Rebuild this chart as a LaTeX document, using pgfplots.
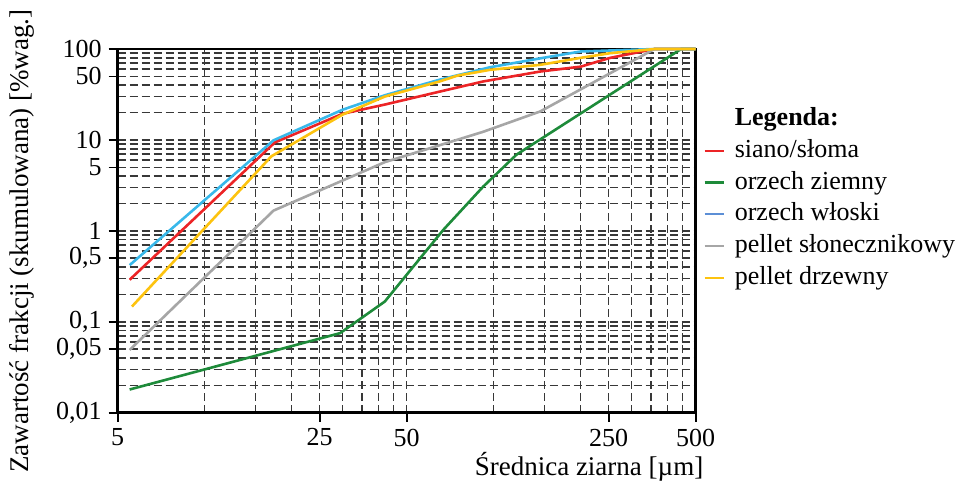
\documentclass[border=0pt]{standalone}
\usepackage{fontspec}
\setmainfont{Liberation Serif}
\usepackage{pgfplots}
\pgfplotsset{compat=1.18}

\definecolor{cred}{HTML}{EC2426}
\definecolor{cgreen}{HTML}{1E8B3A}
\definecolor{ccyan}{HTML}{38B8EA}
\definecolor{cblue}{HTML}{5C8FD6}
\definecolor{cgray}{HTML}{A6A6A6}
\definecolor{cyellow}{HTML}{FDC30F}

\begin{document}
\begin{tikzpicture}
\useasboundingbox (0,0) rectangle (483pt,242pt);
\begin{axis}[
    at={(58.85pt,35.65pt)}, anchor=south west,
    scale only axis, width=289pt, height=181.85pt,
    xmode=log, ymode=log,
    xmin=5, xmax=500, ymin=0.01, ymax=100,
    xtick={5,25,50,250,500},
    xticklabels={5,25,50,250,500},
    ytick={0.01,0.05,0.1,0.5,1,5,10,50,100},
    yticklabels={{0,01},{0,05},{0,1},{0,5},1,5,10,50,100},
    minor xtick={10,15,20,30,35,40,45,100,150,200,300,350,400,450},
    minor ytick={0.02,0.03,0.04,0.06,0.07,0.08,0.09,
                 0.2,0.3,0.4,0.6,0.7,0.8,0.9,
                 2,3,4,6,7,8,9,20,30,40,60,70,80,90},
    grid=both,
    grid style={dash pattern=on 4pt off 2pt, line width=0.75pt, black!78},
    major grid style={dash pattern=on 4pt off 2pt, line width=0.75pt, black!78},
    tick align=outside, xtick pos=bottom, ytick pos=left,
    major tick length=4.5pt, minor tick length=0pt,
    tick style={black, line width=0.8pt},
    axis line style={line width=1.3pt},
    tick label style={font=\fontsize{13}{13}\selectfont},
    clip=false,
    legend cell align=left,
    legend style={draw=none, fill=none, at={(1.013,0.843)}, anchor=north west,
        inner sep=0pt, row sep=3.6pt,
        font=\fontsize{13}{13}\selectfont,
        nodes={inner sep=0pt, text height=9.5pt, text depth=2.8pt},
        /tikz/every odd column/.append style={column sep=5pt}},
    legend image code/.code={\draw[#1, line width=1.1pt] (0pt,0pt) -- (9.5pt,0pt);},
    every axis plot/.append style={line width=1.3pt},
]
\addlegendimage{empty legend}
\addlegendentry{\textbf{Legenda:}}

% siano/slama
\addplot[cred] coordinates {
    (5.5,0.29) (17.5,9.4) (30,19.4) (42,24.5) (65,34) (92,44)
    (145,56.6) (200,64) (253,80) (360,100) (500,100)
};
\addlegendentry{siano/słoma}

% orzech ziemny
\addplot[cgreen] coordinates {
    (5.5,0.018) (29.4,0.075) (42,0.167) (67,1.03) (92,3.07)
    (120,6.9) (445,100) (500,100)
};
\addlegendentry{orzech ziemny}

% orzech wloski (line is cyan, legend key is blue)
\addplot[ccyan, forget plot] coordinates {
    (5.5,0.42) (17.3,9.9) (30,21.5) (42,31) (65,46) (97,63)
    (145,79) (200,94) (360,100) (500,100)
};
\addlegendimage{cblue}
\addlegendentry{orzech włoski}

% pellet slonecznikowy
\addplot[cgray] coordinates {
    (5.5,0.049) (17.3,1.67) (42,5.7) (92,12.3) (145,20.6)
    (360,100) (500,100)
};
\addlegendentry{pellet słonecznikowy}

% pellet drzewny
\addplot[cyellow] coordinates {
    (5.6,0.147) (17,6.6) (30,19) (42,30) (65,44) (75,51) (97,59)
    (145,67) (200,80) (253,90) (360,100) (500,100)
};
\addlegendentry{pellet drzewny}
\end{axis}

\node[rotate=90, font=\fontsize{13.5}{14}\selectfont] at (11pt,121.5pt)
    {Zawartość frakcji (skumulowana) [\%wag.]};
\node[anchor=base, font=\fontsize{13.5}{14}\selectfont] at (294.5pt,4.5pt)
    {Średnica ziarna [µm]};
\end{tikzpicture}
\end{document}
